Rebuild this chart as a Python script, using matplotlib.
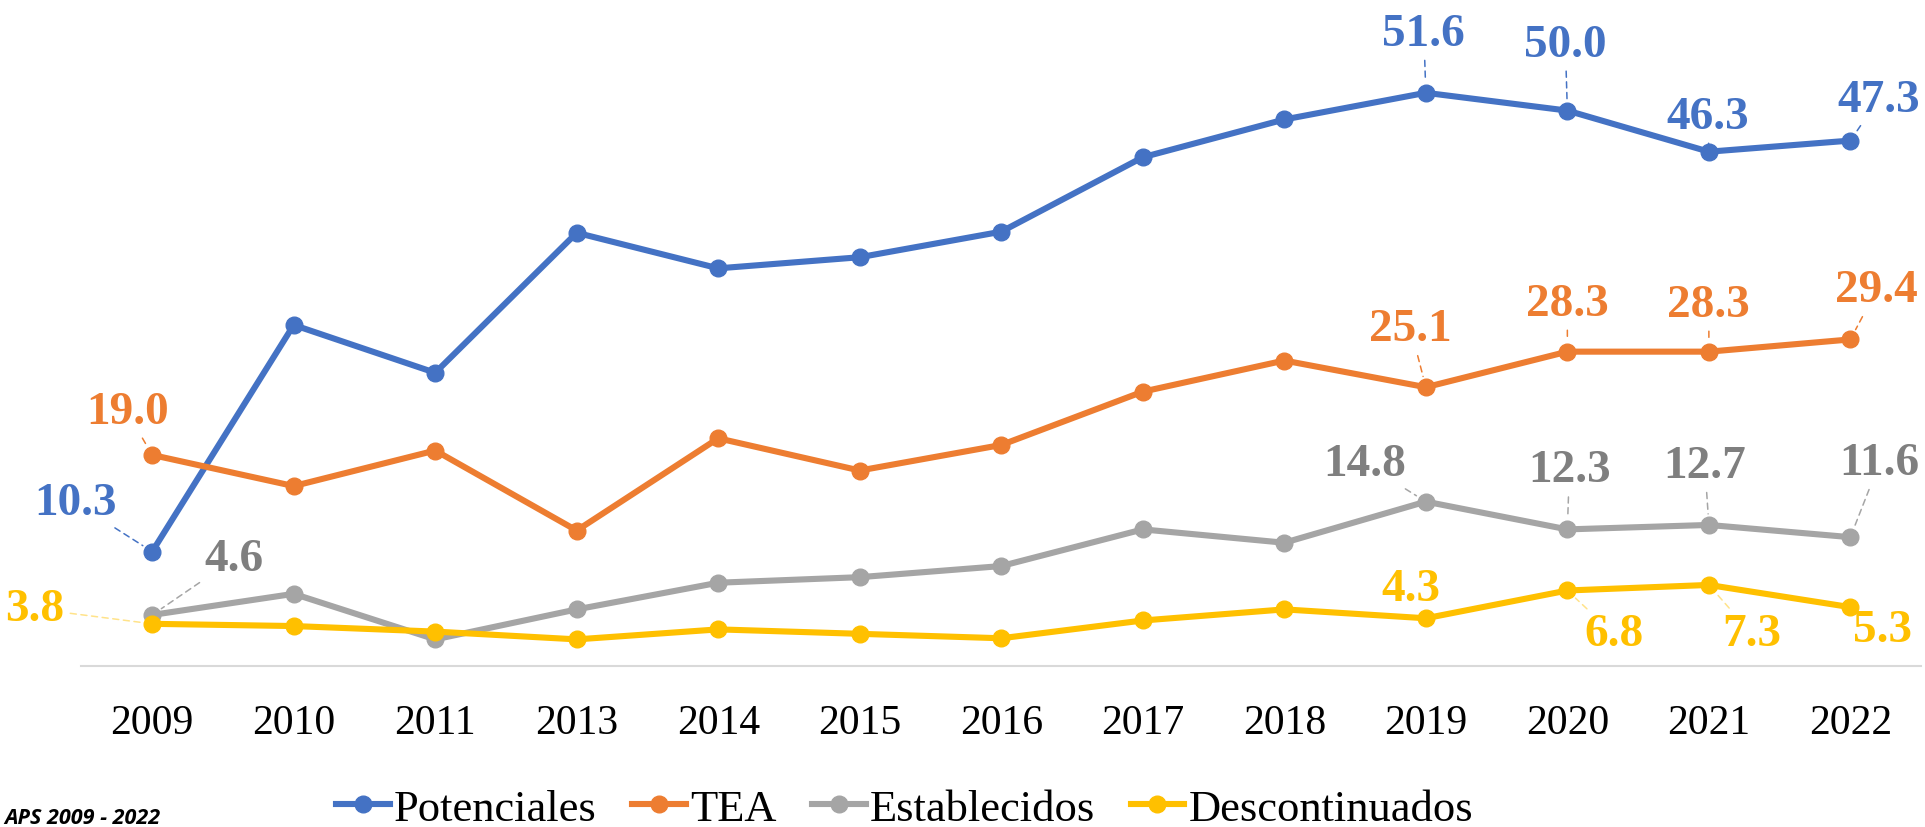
import matplotlib
matplotlib.use("Agg")
import matplotlib.pyplot as plt
from matplotlib.font_manager import FontProperties

years = ["2009", "2010", "2011", "2013", "2014", "2015", "2016",
         "2017", "2018", "2019", "2020", "2021", "2022"]
potenciales = [10.3, 30.7, 26.4, 39.0, 35.8, 36.8, 39.1, 45.8, 49.2, 51.6, 50.0, 46.3, 47.3]
tea = [19.0, 16.2, 19.4, 12.2, 20.5, 17.6, 19.9, 24.7, 27.5, 25.1, 28.3, 28.3, 29.4]
establecidos = [4.6, 6.5, 2.4, 5.1, 7.5, 8.0, 9.0, 12.3, 11.1, 14.8, 12.3, 12.7, 11.6]
descontinuados = [3.8, 3.6, 3.1, 2.4, 3.3, 2.9, 2.5, 4.1, 5.1, 4.3, 6.8, 7.3, 5.3]

names = ["Potenciales", "TEA", "Establecidos", "Descontinuados"]
series = [potenciales, tea, establecidos, descontinuados]
colors = ["#4472C4", "#ED7D31", "#A5A5A5", "#FFC000"]
label_colors = ["#4472C4", "#ED7D31", "#7F7F7F", "#FFC000"]
leader_colors = ["#4472C4", "#ED7D31", "#A5A5A5", "#FFE38A"]

# which points carry a data label: (series index, year index, dx px, dy px, leader?)
labels = [
    (0, 0, -77, 49, True), (1, 0, -25, 43, True), (2, 0, 82, 56, True), (3, 0, -117, 15, True),
    (0, 9, -2, 59, True), (0, 10, -2, 66, True), (0, 11, -1, 35, True), (0, 12, 28, 41, True),
    (1, 9, -15, 58, True), (1, 10, 0, 48, True), (1, 11, 0, 47, True), (1, 12, 26, 49, True),
    (2, 9, -61, 38, True), (2, 10, 2, 59, True), (2, 11, -4, 59, True), (2, 12, 29, 74, True),
    (3, 9, -15, 29, False), (3, 10, 47, -44, True), (3, 11, 43, -49, True), (3, 12, 32, -23, False),
]

plt.rcParams["font.family"] = ["Liberation Serif", "DejaVu Serif"]

fig = plt.figure(figsize=(19.25, 8.28), dpi=100)
ax = fig.add_axes([0.0423, 0.1944, 0.9557, 0.805])
x = list(range(len(years)))
for vals, c, n in zip(series, colors, names):
    ax.plot(x, vals, color=c, lw=4.4, marker="o", ms=12, label=n, zorder=3)

for si, yi, dx, dy, lead in labels:
    v = series[si][yi]
    arrow = None
    if lead:
        arrow = dict(arrowstyle="-", color=leader_colors[si], lw=1.1,
                     linestyle=(0, (4, 3)), shrinkA=2, shrinkB=8)
    ax.annotate(f"{v:.1f}", xy=(yi, v), xytext=(dx, dy), textcoords="offset pixels",
                ha="center", va="center", fontsize=34, fontweight="bold",
                color=label_colors[si], arrowprops=arrow, zorder=4)

ax.set_xlim(-0.5, len(years) - 0.5)
ax.set_ylim(0, 60)
ax.set_xticks(x)
ax.set_xticklabels(years, fontsize=30)
ax.tick_params(axis="x", length=0, pad=27)
ax.set_yticks([])
for s in ["left", "right", "top"]:
    ax.spines[s].set_visible(False)
ax.spines["bottom"].set_color("#D9D9D9")
ax.spines["bottom"].set_linewidth(1.5)

leg = fig.legend(loc="center", bbox_to_anchor=(0.47, 0.022), ncol=4, frameon=False,
                 prop=FontProperties(family="Liberation Serif", size=32),
                 handlelength=1.2, handletextpad=0.1, columnspacing=0.8, borderaxespad=0)

fig.text(0.002, 0.012, "APS 2009 - 2022", ha="left", va="center", fontsize=15.5,
         fontweight="bold", style="italic", family=["Open Sans", "DejaVu Sans"])

fig.savefig("out.png", dpi=100)
